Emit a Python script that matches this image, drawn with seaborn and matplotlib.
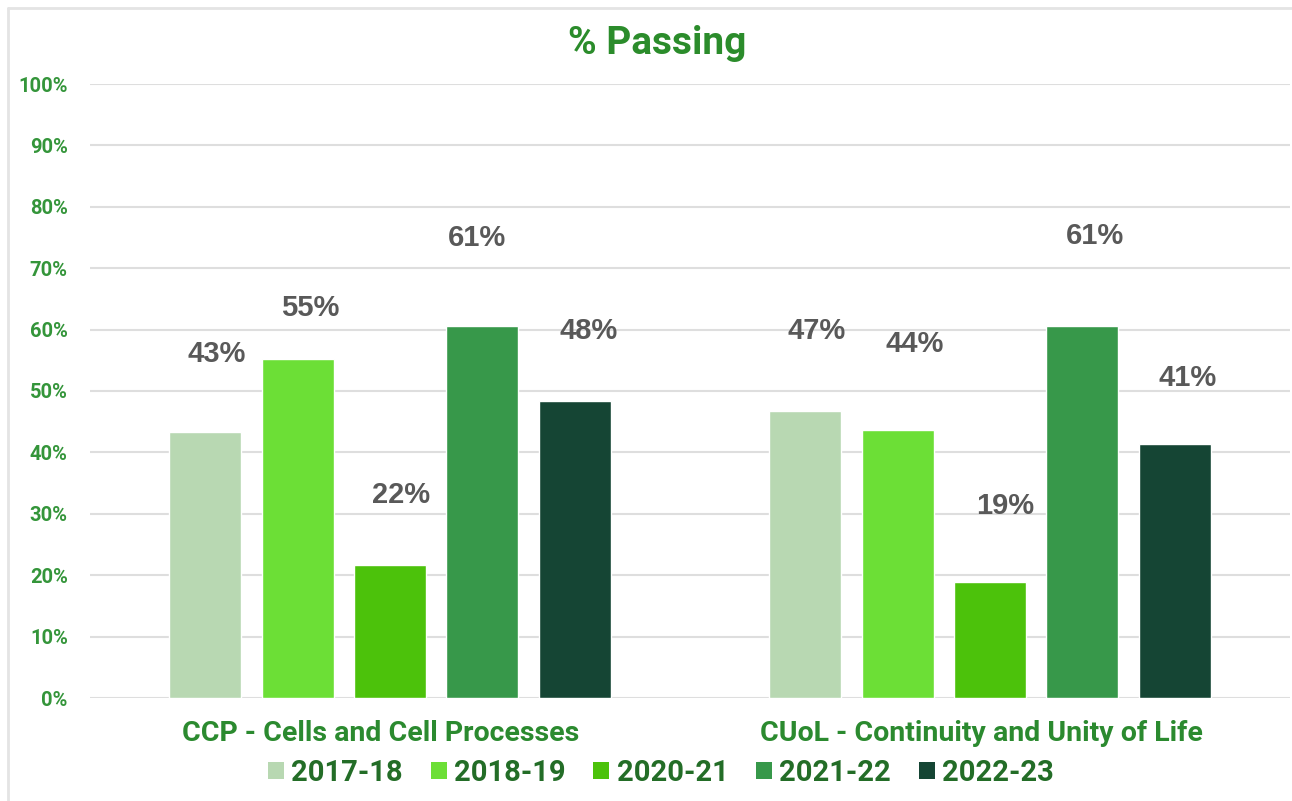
import matplotlib
matplotlib.use("Agg")
import matplotlib.pyplot as plt
import matplotlib.transforms as mtransforms
import seaborn as sns
import pandas as pd
from matplotlib.patches import Patch
from matplotlib.lines import Line2D

# ---- data ----
categories = ["CCP - Cells and Cell Processes", "CUoL - Continuity and Unity of Life"]
years = ["2017-18", "2018-19", "2020-21", "2021-22", "2022-23"]
ccp_values = [43.3, 55.2, 21.6, 60.6, 48.3]
cuol_values = [46.7, 43.6, 18.9, 60.6, 41.3]
ccp_labels = ["43%", "55%", "22%", "61%", "48%"]
cuol_labels = ["47%", "44%", "19%", "61%", "41%"]
yticks = [0, 10, 20, 30, 40, 50, 60, 70, 80, 90, 100]
ytick_labels = ["0%", "10%", "20%", "30%", "40%", "50%", "60%", "70%", "80%", "90%", "100%"]

# ---- style ----
colors = ["#b8d8b2", "#6cdf36", "#4cc20b", "#37984a", "#154534"]
label_dx = [[8, 9, 8, -4, 10], [8, 12, 11, 9, 9]]          # points
label_dy = [[56, 37, 51, 63, 51], [58, 62, 55, 65, 48]]      # points

rows = []
for cat, vals in zip(categories, [ccp_values, cuol_values]):
    for y, v in zip(years, vals):
        rows.append({"category": cat, "year": y, "value": v})
df = pd.DataFrame(rows)

sns.set_theme(style="white")
plt.rcParams["font.family"] = ["Roboto", "DejaVu Sans"]

fig = plt.figure(figsize=(12.92, 8.01), dpi=100)
ax = fig.add_axes([90 / 1292, 1 - 698 / 801, 1200 / 1292, (698 - 84) / 801])

sns.barplot(data=df, x="category", y="value", hue="year", hue_order=years,
            palette=colors, width=0.77, gap=0.22, saturation=1, ax=ax,
            legend=False, zorder=3)

ax.set_xlim(-0.5, 1.5)
ax.set_ylim(0, 100)
ax.set_yticks(yticks)
ax.set_yticklabels(ytick_labels, fontsize=14.5, fontweight="bold", color="#34953a")
ax.tick_params(axis="y", length=0, pad=16)
ax.tick_params(axis="x", length=0, pad=16)
shift = mtransforms.ScaledTranslation(-9 / 100, 0, fig.dpi_scale_trans)
for t in ax.get_xticklabels():
    t.set_fontsize(20.5)
    t.set_fontweight("bold")
    t.set_color("#2b8a2f")
    t.set_transform(t.get_transform() + shift)
ax.set_xlabel("")
ax.set_ylabel("")
ax.grid(axis="y", color="#dedede", linewidth=1.5, zorder=0)
ax.set_axisbelow(True)
for s in ax.spines.values():
    s.set_visible(False)

# data labels
all_labels = [ccp_labels, cuol_labels]
for hi, container in enumerate(ax.containers):
    for ci, bar in enumerate(container):
        ax.annotate(all_labels[ci][hi],
                    (bar.get_x() + bar.get_width() / 2, bar.get_height()),
                    xytext=(label_dx[ci][hi], label_dy[ci][hi]),
                    textcoords="offset points", ha="center", va="center",
                    fontsize=21, fontweight="bold", color="#595959",
                    family=["Liberation Sans", "DejaVu Sans"])

fig.text(657 / 1292, 1 - 43 / 801, "% Passing", ha="center", va="center",
         fontsize=28, fontweight="bold", color="#2b8c2b")

handles = [Patch(facecolor=c, edgecolor="none") for c in colors]
leg = fig.legend(handles, years, loc="center", bbox_to_anchor=(661 / 1292, 1 - 773 / 801),
                 ncol=5, frameon=False, handlelength=0.55, handleheight=0.55,
                 handletextpad=0.25, columnspacing=0.95,
                 prop={"family": ["Roboto"], "weight": "bold", "size": 21})
for t in leg.get_texts():
    t.set_color("#236d27")

# light frame (top and left edges)
fig.add_artist(Line2D([8 / 1292, 1], [1 - 8 / 801, 1 - 8 / 801], transform=fig.transFigure,
                      color="#e4e4e4", linewidth=2))
fig.add_artist(Line2D([8 / 1292, 8 / 1292], [0, 1 - 8 / 801], transform=fig.transFigure,
                      color="#e4e4e4", linewidth=2))

fig.savefig("out.png", dpi=100, facecolor="white")
